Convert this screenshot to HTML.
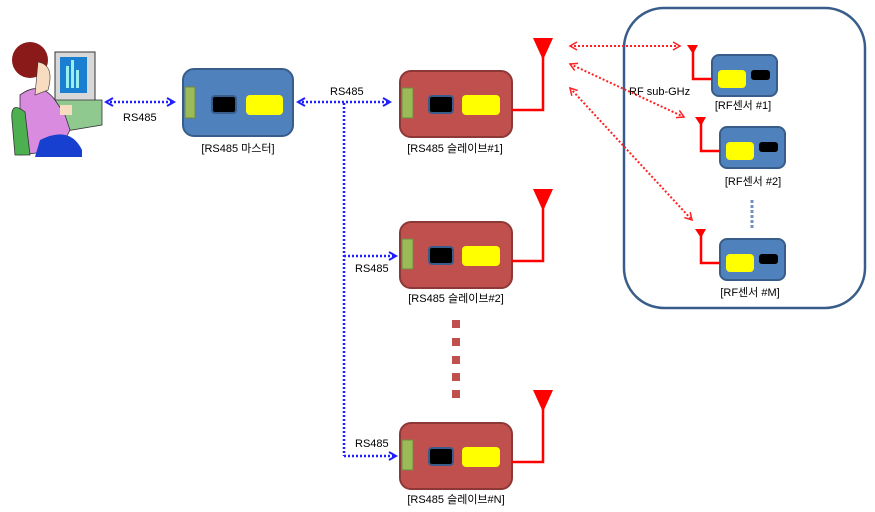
<!DOCTYPE html>
<html><head><meta charset="utf-8"><style>
html,body{margin:0;padding:0;background:#fff;}
svg{display:block;}
text{font-family:"Liberation Sans","Noto Sans CJK KR",sans-serif;font-size:11px;fill:#000;}
</style></head><body>
<svg width="875" height="512" viewBox="0 0 875 512" xmlns="http://www.w3.org/2000/svg">
<defs>
<marker id="bh" markerWidth="10" markerHeight="10" refX="8" refY="5" orient="auto-start-reverse" markerUnits="userSpaceOnUse"><path d="M1,1 L8,5 L1,9" fill="none" stroke="#1f1fff" stroke-width="2"/></marker>
<marker id="rh" markerWidth="10" markerHeight="10" refX="8" refY="5" orient="auto-start-reverse" markerUnits="userSpaceOnUse"><path d="M1,1 L8,5 L1,9" fill="none" stroke="#ff2020" stroke-width="1.5"/></marker>
</defs>

<!-- person -->
<g>
<rect x="55" y="52" width="40" height="50" fill="#d8d8d8" stroke="#333" stroke-width="1"/>
<rect x="60" y="57" width="27" height="36" fill="#1a7fd0"/>
<rect x="66" y="66" width="3" height="22" fill="#9ee"/><rect x="71" y="60" width="3" height="28" fill="#9ee"/><rect x="76" y="70" width="3" height="18" fill="#9ee"/>
<polygon points="45,100 102,100 102,125 60,132" fill="#8fc98f" stroke="#333" stroke-width="0.8"/>
<path d="M20,95 Q40,80 55,100 L65,115 L70,130 L60,150 L20,155 Z" fill="#d98be0" stroke="#333" stroke-width="0.8"/>
<ellipse cx="30" cy="60" rx="18" ry="18" fill="#8a1a1a"/>
<path d="M38,62 Q55,65 48,90 L35,95 Z" fill="#f8dcc0" stroke="#333" stroke-width="0.6"/>
<path d="M12,120 Q10,100 25,112 L30,155 L15,155 Z" fill="#4caf50" stroke="#333" stroke-width="0.8"/>
<path d="M40,140 Q70,125 82,150 L82,157 L35,157 Z" fill="#1840d0"/>
<rect x="60" y="105" width="12" height="10" fill="#f8dcc0"/>
</g>

<!-- blue dotted links -->
<g stroke="#1f1fff" stroke-width="2.5" stroke-dasharray="2,2" fill="none">
<line x1="106" y1="102" x2="174" y2="102" marker-start="url(#bh)" marker-end="url(#bh)"/>
<line x1="298" y1="102" x2="390" y2="102" marker-start="url(#bh)" marker-end="url(#bh)"/>
<line x1="344" y1="103" x2="344" y2="456"/>
<line x1="344" y1="256" x2="396" y2="256" marker-end="url(#bh)"/>
<line x1="344" y1="456" x2="396" y2="456" marker-end="url(#bh)"/>
</g>
<text x="123" y="121">RS485</text>
<text x="330" y="95">RS485</text>
<text x="355" y="272">RS485</text>
<text x="355" y="447">RS485</text>

<!-- master -->
<rect x="183" y="69" width="110" height="67" rx="11" fill="#4f81bd" stroke="#385d8a" stroke-width="2"/>
<rect x="185" y="87" width="10" height="31" fill="#9bbb59" stroke="#71893f"/>
<rect x="212" y="96" width="24" height="17" rx="3" fill="#000" stroke="#385d8a" stroke-width="2"/>
<rect x="246" y="95" width="37" height="20" rx="4" fill="#ffff00"/>
<text x="238" y="152" text-anchor="middle">[RS485 마스터]</text>

<!-- slaves -->
<g id="s">
<rect x="400" y="71" width="112" height="66" rx="11" fill="#c0504d" stroke="#8c3836" stroke-width="2"/>
<rect x="402" y="88" width="11" height="30" fill="#9bbb59" stroke="#71893f"/>
<rect x="429" y="96" width="24" height="17" rx="3" fill="#000" stroke="#385d8a" stroke-width="2"/>
<rect x="462" y="95" width="38" height="20" rx="4" fill="#ffff00"/>
<polyline points="512,110 543,110 543,50" fill="none" stroke="#ff0000" stroke-width="2.5"/>
<polygon points="533,38 553,38 543,60" fill="#ff0000"/>
</g>
<use href="#s" y="151"/>
<use href="#s" y="352"/>
<text x="455" y="152" text-anchor="middle">[RS485 슬레이브#1]</text>
<text x="456" y="302" text-anchor="middle">[RS485 슬레이브#2]</text>
<text x="456" y="503" text-anchor="middle">[RS485 슬레이브#N]</text>
<g fill="#c0504d">
<rect x="452" y="320" width="8" height="8"/><rect x="452" y="338" width="8" height="8"/><rect x="452" y="356" width="8" height="8"/><rect x="452" y="373" width="8" height="8"/><rect x="452" y="390" width="8" height="8"/>
</g>

<!-- container -->
<rect x="624" y="8" width="241" height="300" rx="40" fill="none" stroke="#385d8a" stroke-width="2.5"/>

<!-- red dotted arrows -->
<g stroke="#ff2020" stroke-width="2" stroke-dasharray="2,2" fill="none">
<line x1="570" y1="46" x2="680" y2="46" marker-start="url(#rh)" marker-end="url(#rh)"/>
<line x1="570" y1="64" x2="684" y2="117" marker-start="url(#rh)" marker-end="url(#rh)"/>
<line x1="570" y1="88" x2="692" y2="220" marker-start="url(#rh)" marker-end="url(#rh)"/>
</g>
<text x="629" y="95">RF sub-GHz</text>

<!-- sensors -->
<g id="n">
<rect x="712" y="55" width="65" height="41" rx="7" fill="#4f81bd" stroke="#385d8a" stroke-width="2"/>
<rect x="718" y="70" width="28" height="18" rx="4" fill="#ffff00"/>
<rect x="751" y="70" width="19" height="10" rx="3" fill="#000"/>
<polyline points="712,79 693,79 693,50" fill="none" stroke="#ff0000" stroke-width="2.5"/>
<polygon points="687,45 698,45 693,54" fill="#ff0000"/>
</g>
<use href="#n" x="8" y="72"/>
<use href="#n" x="8" y="184"/>
<text x="743" y="109" text-anchor="middle">[RF센서 #1]</text>
<text x="753" y="185" text-anchor="middle">[RF센서 #2]</text>
<text x="750" y="296" text-anchor="middle">[RF센서 #M]</text>
<line x1="752" y1="200" x2="752" y2="230" stroke="#7090c0" stroke-width="3" stroke-dasharray="3,2"/>
</svg>
</body></html>
